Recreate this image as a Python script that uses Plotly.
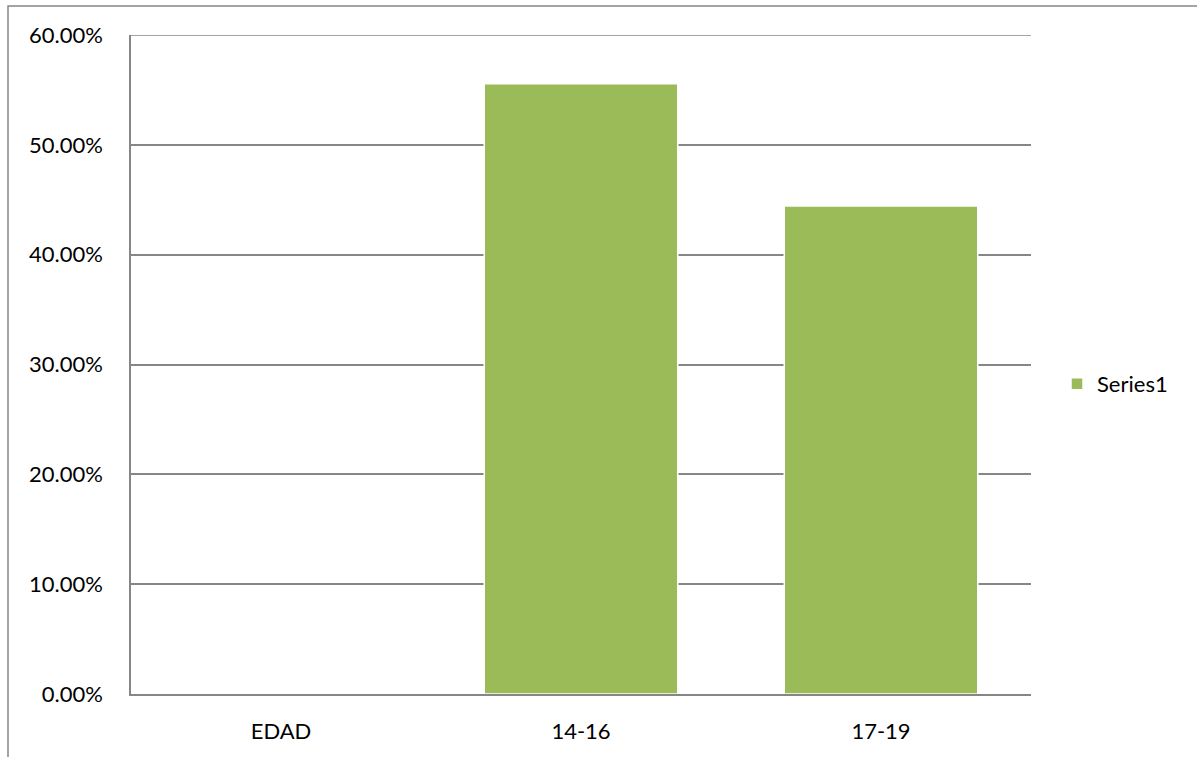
import plotly.graph_objects as go

categories = ["EDAD", "14-16", "17-19"]
values = [None, 0.5556, 0.4444]
series_name = "Series1"
tick_vals = [0, 0.1, 0.2, 0.3, 0.4, 0.5, 0.6]

W, H = 1197, 757
L, R, T, B = 131, 1031, 35, 694

fig = go.Figure()
fig.add_trace(go.Bar(
    x=categories, y=values, name=series_name,
    marker=dict(color="#9BBB59", line=dict(color="#FFFFFF", width=1.5)),
    showlegend=True,
))

pw = R - L
ph = B - T
grid = "#868686"
fig.update_layout(
    width=W, height=H,
    margin=dict(l=L, r=W - R, t=T, b=H - B, pad=0),
    paper_bgcolor="white", plot_bgcolor="white",
    font=dict(family="Lato, Open Sans, sans-serif", size=22, color="#000000"),
    bargap=0.355,
    showlegend=True,
    legend=dict(x=(1057 - L) / pw, y=(B - 384) / ph, xanchor="left", yanchor="middle",
                font=dict(size=22), bgcolor="rgba(0,0,0,0)"),
    xaxis=dict(showgrid=False, showline=True, linecolor=grid, linewidth=1.5,
               ticks="outside", ticklen=17, tickcolor="rgba(0,0,0,0)", zeroline=False),
    yaxis=dict(range=[0, 0.6], tickvals=tick_vals, tickformat=".2%",
               showgrid=True, gridcolor=grid, gridwidth=1.5,
               showline=True, linecolor=grid, linewidth=1.5,
               ticks="outside", ticklen=22, tickcolor="rgba(0,0,0,0)", zeroline=False),
    shapes=[
        dict(type="rect", xref="paper", yref="paper",
             x0=(8 - L) / pw, x1=(W + 10 - L) / pw,
             y0=(B - (H + 10)) / ph, y1=(B - 6) / ph,
             line=dict(color=grid, width=1.5), layer="below"),
        dict(type="line", xref="paper", yref="y", x0=0, x1=1,
             y0=tick_vals[-1], y1=tick_vals[-1],
             line=dict(color=grid, width=1.5), layer="below"),
    ],
)

fig.write_html("out.html", config={"displayModeBar": False},
               post_script="document.body.style.margin='0';")
